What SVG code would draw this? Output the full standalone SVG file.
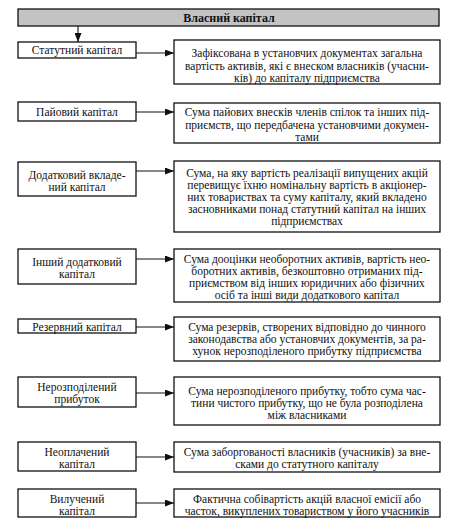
<svg xmlns="http://www.w3.org/2000/svg" width="475" height="530" viewBox="0 0 475 530">
<style>
.box{fill:#fff;stroke:#111;stroke-width:1.3}
.title{fill:#c3c3c3;stroke:#111;stroke-width:1.3}
text{font-family:"Liberation Serif","DejaVu Serif",serif;font-size:11.5px;fill:#111;text-anchor:middle}
.tt{font-weight:bold;font-size:12px}
.c{stroke:#111;stroke-width:1.1;fill:none;marker-end:url(#ah)}
</style>
<defs>
<marker id="ah" markerWidth="9" markerHeight="7" refX="9" refY="3.5" orient="auto" markerUnits="userSpaceOnUse">
<path d="M0,0 L9,3.5 L0,7 Z" fill="#111"/>
</marker>
</defs>
<rect width="475" height="530" fill="#fff"/>
<g id="title"><rect class="title" x="18" y="9" width="421" height="17"/><text class="tt" x="229" y="21.5">Власний капітал</text></g>

<g id="l1"><rect class="box" x="18" y="42" width="118" height="16"/><text x="77" y="54">Статутний капітал</text></g>
<g id="r1"><rect class="box" x="174" y="40" width="266" height="44"/><text x="307" y="57">Зафіксована в установчих документах загальна</text><text x="307" y="69.5">вартість активів, які є внеском власників (учасни-</text><text x="307" y="82">ків) до капіталу  підприємства</text></g>

<g id="l2"><rect class="box" x="18" y="102" width="118" height="19"/><text x="77" y="115.5">Пайовий капітал</text></g>
<g id="r2"><rect class="box" x="174" y="103" width="266" height="40"/><text x="307" y="116">Сума пайових внесків членів спілок та інших під-</text><text x="307" y="128.5">приємств, що передбачена установчими докумен-</text><text x="307" y="141">тами</text></g>

<g id="l3"><rect class="box" x="18" y="162" width="118" height="34"/><text x="77" y="178.5">Додатковий вкладе-</text><text x="77" y="190.5">ний капітал</text></g>
<g id="r3"><rect class="box" x="174" y="161" width="266" height="71"/><text x="307" y="177">Сума, на яку вартість реалізації випущених акцій</text><text x="307" y="189">перевищує їхню номінальну вартість в акціонер-</text><text x="307" y="201">них товариствах та суму капіталу, який вкладено</text><text x="307" y="213">засновниками понад статутний капітал на інших</text><text x="307" y="225">підприємствах</text></g>

<g id="l4"><rect class="box" x="18" y="249" width="118" height="35"/><text x="77" y="265.5">Інший додатковий</text><text x="77" y="277.5">капітал</text></g>
<g id="r4"><rect class="box" x="174" y="249" width="266" height="53"/><text x="307" y="263">Сума дооцінки необоротних активів, вартість нео-</text><text x="307" y="275">боротних активів, безкоштовно отриманих під-</text><text x="307" y="287">приємством від інших юридичних або фізичних</text><text x="307" y="299">осіб та інші види додаткового капітал</text></g>

<g id="l5"><rect class="box" x="18" y="319" width="118" height="14"/><text x="77" y="330.5">Резервний капітал</text></g>
<g id="r5"><rect class="box" x="174" y="317" width="266" height="44"/><text x="307" y="331">Сума резервів, створених відповідно до чинного</text><text x="307" y="343">законодавства або установчих документів, за ра-</text><text x="307" y="355">хунок нерозподіленого прибутку підприємства</text></g>

<g id="l6"><rect class="box" x="18" y="377" width="118" height="30"/><text x="77" y="390.5">Нерозподілений</text><text x="77" y="402.5">прибуток</text></g>
<g id="r6"><rect class="box" x="174" y="377" width="266" height="48"/><text x="307" y="395">Сума нерозподіленого прибутку, тобто сума час-</text><text x="307" y="407">тини чистого прибутку, що не була розподілена</text><text x="307" y="419">між власниками</text></g>

<g id="l7"><rect class="box" x="18" y="442" width="118" height="29"/><text x="77" y="455.5">Неоплачений</text><text x="77" y="467.5">капітал</text></g>
<g id="r7"><rect class="box" x="174" y="442" width="266" height="30"/><text x="307" y="455.5">Сума заборгованості власників (учасників) за вне-</text><text x="307" y="467.5">сками до статутного капіталу</text></g>

<g id="l8"><rect class="box" x="18" y="489" width="118" height="28"/><text x="77" y="503">Вилучений</text><text x="77" y="515">капітал</text></g>
<g id="r8"><rect class="box" x="174" y="489" width="266" height="28"/><text x="307" y="503">Фактична собівартість акцій власної емісії або</text><text x="307" y="515">часток, викуплених товариством у його учасників</text></g>

<g id="connectors">
<line class="c" x1="78" y1="26" x2="78" y2="42"/>
<line class="c" x1="136" y1="53" x2="174" y2="53"/>
<line class="c" x1="136" y1="112" x2="174" y2="112"/>
<line class="c" x1="136" y1="171" x2="174" y2="171"/>
<line class="c" x1="136" y1="259" x2="174" y2="259"/>
<line class="c" x1="136" y1="327" x2="174" y2="327"/>
<line class="c" x1="136" y1="393" x2="174" y2="393"/>
<line class="c" x1="136" y1="457" x2="174" y2="457"/>
<line class="c" x1="136" y1="503" x2="174" y2="503"/>
</g>
</svg>
